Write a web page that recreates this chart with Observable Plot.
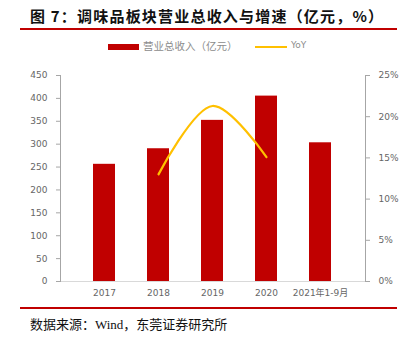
<!DOCTYPE html>
<html><head><meta charset="utf-8">
<script src="https://cdn.jsdelivr.net/npm/d3@7"></script>
<script src="https://cdn.jsdelivr.net/npm/@observablehq/plot@0.6"></script>
<style>
body{margin:0;background:#fff;font-family:"Liberation Sans","Noto Sans CJK SC",sans-serif;}
#wrap{position:relative;width:410px;height:337px;}
#title{position:absolute;left:30px;top:5px;font:bold 15px "Noto Sans CJK SC",sans-serif;color:#111;letter-spacing:1.2px;white-space:nowrap;}
.rule{position:absolute;left:20px;width:377px;height:1.5px;background:#c00000;}
#legend{position:absolute;top:39px;left:0;width:410px;height:16px;font:10.5px "Noto Sans CJK SC",sans-serif;color:#8c8c8c;}
#chart{position:absolute;left:0;top:60px;}
#caption{position:absolute;left:30px;top:314px;font:13px "Liberation Serif","Noto Sans CJK SC",serif;color:#111;white-space:nowrap;}
</style></head>
<body><div id="wrap">
<div id="title">图 7：调味品板块营业总收入与增速（亿元，%）</div>
<div class="rule" style="top:28px"></div>
<div id="legend">
 <span style="position:absolute;left:108px;top:5px;width:31px;height:6px;background:#c00000"></span>
 <span style="position:absolute;left:143px;top:-1px">营业总收入（亿元）</span>
 <span style="position:absolute;left:255px;top:7px;width:32px;height:2px;background:#ffc000"></span>
 <span style="position:absolute;left:291px;top:1px;font-family:'DejaVu Sans',sans-serif;font-size:9px">YoY</span>
</div>
<div id="chart"></div>
<div class="rule" style="top:307px"></div>
<div id="caption">数据来源：Wind，东莞证券研究所</div>
</div>
<script>
const years = ["2017","2018","2019","2020","2021年1-9月"];
const revenue = [256, 290, 352, 405, 303];
const yoyYears = ["2018","2019","2020"];
const yoy = [13.0, 21.3, 15.1];
const leftTicks = [0,50,100,150,200,250,300,350,400,450];
const rightTicks = [0,5,10,15,20,25];
const ratio = 450/25;

const bars = years.map((y,i)=>({year:y, value:revenue[i]}));
const line = yoyYears.map((y,i)=>({year:y, v:yoy[i]*ratio}));

const plot = Plot.plot({
  width:410, height:245,
  marginTop:15, marginBottom:24, marginLeft:60, marginRight:45,
  style:{fontFamily:"'DejaVu Sans','Noto Sans CJK SC',sans-serif", fontSize:"9px", color:"#666", background:"transparent"},
  x:{domain:years, padding:0.59, axis:null},
  y:{domain:[0,450], axis:null},
  marks:[
    Plot.barY(bars,{x:"year", y:"value", fill:"#c00000"}),
    Plot.line(line,{x:"year", y:"v", stroke:"#ffc000", strokeWidth:2.2, curve:"catmull-rom"}),
    Plot.ruleY([0],{stroke:"#d9d9d9", strokeWidth:1}),
    Plot.frame({anchor:"left", stroke:"#a6a6a6"}),
    Plot.frame({anchor:"right", stroke:"#a6a6a6"}),
    Plot.axisY({ticks:leftTicks, anchor:"left", tickSize:4, tickPadding:9, stroke:"#a6a6a6", fill:"#666", label:null}),
    Plot.axisY(rightTicks.map(t=>t*ratio),{anchor:"right", tickSize:4, tickPadding:9, stroke:"#a6a6a6", fill:"#666", tickFormat:d=>(d/ratio)+"%", label:null}),
    Plot.axisX({tickSize:0, tickPadding:8, fill:"#666", label:null})
  ]
});
document.getElementById("chart").appendChild(plot);
</script>
</body></html>
